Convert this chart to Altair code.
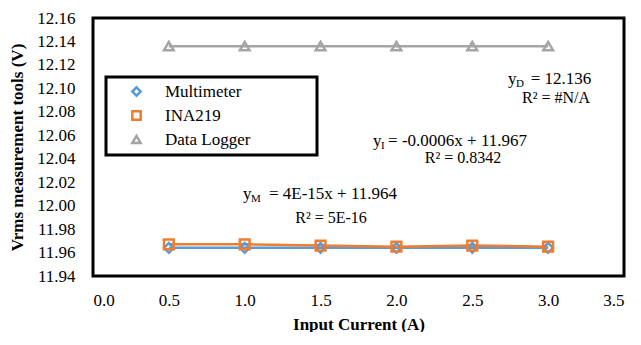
import altair as alt
import pandas as pd

# ---- data ----
currents = [0.5, 1.0, 1.5, 2.0, 2.5, 3.0]
multimeter = [11.964, 11.964, 11.964, 11.964, 11.964, 11.964]
ina219 = [11.967, 11.967, 11.966, 11.965, 11.966, 11.965]
data_logger = [12.136, 12.136, 12.136, 12.136, 12.136, 12.136]
series_names = ["Multimeter", "INA219", "Data Logger"]
series_colors = ["#5B9BD5", "#ED7D31", "#A5A5A5"]
series_shapes = ["diamond", "square", "triangle-up"]
x_ticks = [0, 0.5, 1, 1.5, 2, 2.5, 3, 3.5]
y_ticks = [11.94, 11.96, 11.98, 12.00, 12.02, 12.04, 12.06, 12.08, 12.10, 12.12, 12.14, 12.16]

# trendline labels: "y" + subscript + rest, and the R² line (centred under it)
ann_sub = ["M", "I", "D"]
ann_rest = ["= 4E-15x + 11.964", "= -0.0006x + 11.967", "= 12.136"]
ann_x = [0.989, 1.846, 2.736]
ann_rest_x = [1.16, 1.945, 2.885]
ann_y = [12.0102, 12.0553, 12.1081]
r2_text = ["R² = 5E-16", "R² = 0.8342", "R² = #N/A"]
r2_x = [1.569, 2.439, 3.052]
r2_y = [11.9898, 12.0407, 12.0918]

FONT = "Liberation Serif"

rows = []
for name, vals in zip(series_names, [multimeter, ina219, data_logger]):
    for c, v in zip(currents, vals):
        rows.append({"current": c, "value": v, "series": name})
df = pd.DataFrame(rows)

ann = pd.DataFrame({"x": ann_x, "rx": ann_rest_x, "y": ann_y, "sub": ann_sub, "rest": ann_rest})
r2 = pd.DataFrame({"x": r2_x, "y": r2_y, "text": r2_text})

x_scale = alt.Scale(domain=[0, 3.5], nice=False, zero=False)
y_scale = alt.Scale(domain=[11.94, 12.16], nice=False, zero=False)
color_scale = alt.Scale(domain=series_names, range=series_colors)
shape_scale = alt.Scale(domain=series_names, range=series_shapes)

x_axis = alt.Axis(title="Input Current (A)", values=x_ticks, format=".1f", labelOverlap=False)
y_axis = alt.Axis(title="Vrms measurement tools (V)", values=y_ticks, format=".2f",
                  labelOverlap=False)


def X(f):
    return alt.X(f, scale=x_scale, axis=x_axis)


def Y(f):
    return alt.Y(f, scale=y_scale, axis=y_axis)


# blank (non-whitespace) padding characters widen the legend frame like in the reference
pad = "\u2800" * 5
legend = alt.Legend(title=None, orient="none", legendX=13, legendY=59,
                    labelExpr="datum.label + '" + pad + "'")

lines = alt.Chart(df).mark_line(strokeWidth=2.5).encode(
    x=X("current:Q"), y=Y("value:Q"),
    color=alt.Color("series:N", scale=color_scale, legend=legend),
)

points = alt.Chart(df).mark_point(filled=False, strokeWidth=2.5, size=95, opacity=1).encode(
    x=X("current:Q"), y=Y("value:Q"),
    color=alt.Color("series:N", scale=color_scale, legend=legend),
    shape=alt.Shape("series:N", scale=shape_scale, legend=legend),
)

txt_main = alt.Chart(ann).mark_text(align="left", baseline="middle", font=FONT, fontSize=17,
                                    color="black").encode(
    x=X("x:Q"), y=Y("y:Q"), text=alt.value("y"))
txt_sub = alt.Chart(ann).mark_text(align="left", baseline="middle", font=FONT, fontSize=11,
                                   color="black", dx=8, dy=5).encode(
    x=X("x:Q"), y=Y("y:Q"), text="sub:N")
txt_rest = alt.Chart(ann).mark_text(align="left", baseline="middle", font=FONT, fontSize=17,
                                    color="black").encode(
    x=X("rx:Q"), y=Y("y:Q"), text="rest:N")
txt_r2 = alt.Chart(r2).mark_text(align="center", baseline="middle", font=FONT, fontSize=16,
                                 color="black").encode(
    x=X("x:Q"), y=Y("y:Q"), text="text:N")

chart = alt.layer(lines, points, txt_main, txt_sub, txt_rest, txt_r2).properties(
    width=531, height=258,
    padding={"left": 0, "top": 1, "right": 4, "bottom": 0},
).configure_view(
    stroke="black", strokeWidth=3,
).configure_axis(
    grid=False, domain=False, ticks=False, labelOverlap=False,
    labelFont=FONT, labelFontSize=17, labelColor="black",
    titleFont=FONT, titleFontSize=17, titleFontWeight="bold", titleColor="black",
).configure_axisY(
    labelPadding=18, titlePadding=10,
).configure_axisX(
    labelPadding=16, titlePadding=8,
).configure_legend(
    labelFont=FONT, labelFontSize=17, labelColor="black",
    strokeColor="black", strokeWidth=3, fillColor="white",
    padding=6, rowPadding=5, symbolSize=70, symbolStrokeWidth=2.5,
    symbolOffset=16, labelOffset=20, labelLimit=400,
)

chart.save("out.html", embed_options={"renderer": "svg", "actions": False})
